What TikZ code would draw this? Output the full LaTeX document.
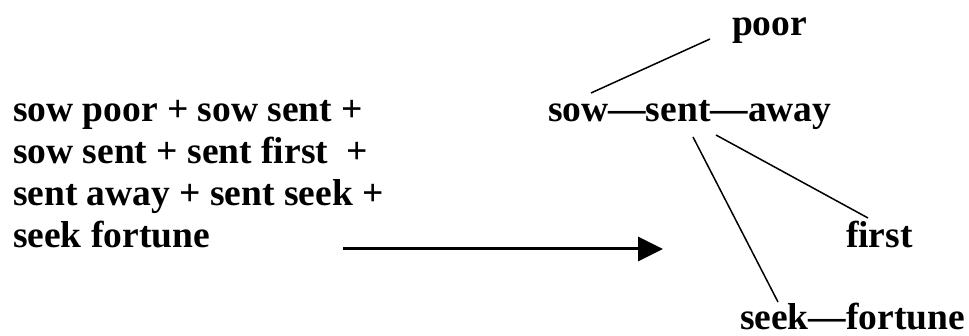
\documentclass[tikz,border=0pt]{standalone}
\usepackage{fontspec}
\setmainfont{Liberation Serif}
\usetikzlibrary{arrows.meta}
\begin{document}
\begin{tikzpicture}[x=1pt,y=-1pt,
  word/.style={inner sep=0pt,outer sep=0pt,anchor=base west,
    font=\fontsize{37.5}{42}\selectfont\bfseries},
  flatword/.style={word,text depth=0pt},
  link/.style={line width=1.5pt},
  bigarrow/.style={line width=3pt,-{Triangle[length=25pt,width=24pt]}}]
\useasboundingbox (0,0) rectangle (969,336);
% left block
\node[word] (l1) at (13,122) {sow poor + sow sent +};
\node[word] (l2) at (13,164) {sow sent + sent first\ \ +};
\node[word] (l3) at (13,206) {sent away + sent seek +};
\node[word] (l4) at (13,248) {seek fortune};
% tree
\node[word] (sow) at (548,122) {sow};
\node[word] (d1) at (sow.base east) {—};
\node[word] (sent) at (d1.base east) {sent};
\node[word] (d2) at (sent.base east) {—};
\node[word] (away) at (d2.base east) {away};
\node[word] (poor) at (732,36) {poor};
\node[word] (first) at (846,248) {first};
\node[flatword] (seek) at (740,330) {seek};
\node[flatword] (d3) at (seek.base east) {—};
\node[flatword] (fortune) at (d3.base east) {fortune};
% connector ends
\coordinate (sowtop) at (591,93);
\coordinate (poorend) at (710,39);
\coordinate (sentA) at (693,137);
\coordinate (seekend) at (778,302);
\coordinate (sentB) at (716,135);
\coordinate (firstend) at (868,218);
\coordinate (arrowstart) at (343,249);
\coordinate (arrowend) at (663,249);
\draw[link] (sowtop) -- (poorend);
\draw[link] (sentA) -- (seekend);
\draw[link] (sentB) -- (firstend);
\draw[bigarrow] (arrowstart) -- (arrowend);
\end{tikzpicture}
\end{document}
